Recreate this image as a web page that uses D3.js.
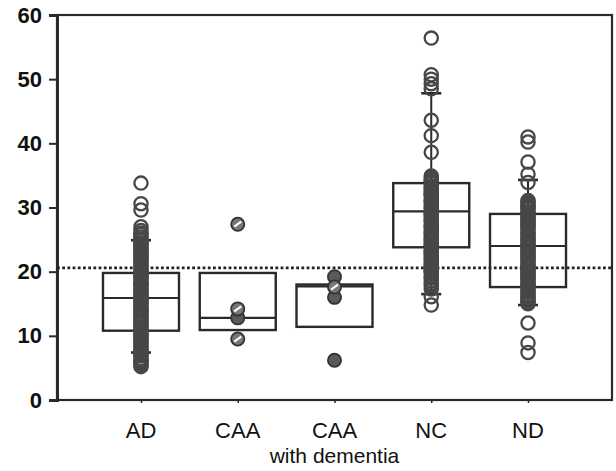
<!DOCTYPE html>
<html>
<head>
<meta charset="utf-8">
<script src="https://cdn.jsdelivr.net/npm/d3@7"></script>
<style>
  body { margin: 0; background: #fff; }
  text { font-family: Arial, "Liberation Sans", sans-serif; fill: #111; }
</style>
</head>
<body>
<svg id="chart" width="616" height="471"></svg>
<script>
// groups on the x axis (second line after "|")
const categories = ["AD", "CAA", "CAA|with dementia", "NC", "ND"];
const yTicks = [0, 10, 20, 30, 40, 50, 60];
const cutoff = 20.6;

// box statistics, one value per group
const q1 = [10.8, 10.9, 11.4, 23.8, 17.6];
const medians = [15.9, 12.8, 17.7, 29.4, 24.0];
const q3 = [19.8, 19.8, 18.0, 33.8, 29.0];
const whiskerLow = [7.4, null, null, 16.5, 14.8];
const whiskerHigh = [24.9, null, null, 47.8, 34.3];

// individual cases (the columns are many overlapping cases)
const adPoints = [33.8, 30.6, 29.6, 27.0, 26.4, 26.0, 25.8, 25.4, 25.1, 24.9, 24.5, 24.2,
  24.0, 23.7, 23.3, 23.0, 22.8, 22.4, 22.1, 21.9, 21.5, 21.2, 21.0, 20.7, 20.3, 20.0, 19.8,
  19.4, 19.1, 18.9, 18.5, 18.2, 18.0, 17.7, 17.3, 17.0, 16.8, 16.4, 16.1, 15.9, 15.5, 15.2,
  15.0, 14.7, 14.3, 14.0, 13.8, 13.4, 13.1, 12.9, 12.5, 12.2, 12.0, 11.7, 11.3, 11.0, 10.8,
  10.4, 10.1, 9.9, 9.5, 9.2, 9.0, 8.7, 8.3, 8.0, 7.8, 7.4, 7.1, 6.9, 6.5, 6.2, 6.0, 5.7,
  5.4, 5.2];
const caaHatched = [27.4, 14.2, 9.5];
const caaFilled = [12.8];
const caaDemHatched = [17.6];
const caaDemFilled = [19.2, 16.0, 6.2];
const ncPoints = [56.4, 50.7, 50.0, 49.3, 48.5, 43.6, 41.2, 38.6, 34.9, 34.6, 34.3, 34.0,
  33.8, 33.4, 33.1, 32.9, 32.5, 32.2, 32.0, 31.7, 31.3, 31.0, 30.8, 30.4, 30.1, 29.9, 29.5,
  29.2, 29.0, 28.7, 28.3, 28.0, 27.8, 27.4, 27.1, 26.9, 26.5, 26.2, 26.0, 25.7, 25.3, 25.0,
  24.8, 24.4, 24.1, 23.9, 23.5, 23.2, 23.0, 22.7, 22.3, 22.0, 21.8, 21.4, 21.1, 20.9, 20.5,
  20.2, 20.0, 19.7, 19.3, 19.0, 18.6, 18.2, 17.8, 17.3, 16.1, 14.8];
const ndPoints = [41.0, 40.2, 37.1, 35.2, 33.9, 31.1, 30.8, 30.5, 30.2, 30.0, 29.7, 29.3,
  29.0, 28.8, 28.4, 28.1, 27.9, 27.5, 27.2, 27.0, 26.7, 26.3, 26.0, 25.8, 25.4, 25.1, 24.9,
  24.5, 24.2, 24.0, 23.7, 23.3, 23.0, 22.8, 22.4, 22.1, 21.9, 21.5, 21.2, 21.0, 20.7, 20.3,
  20.0, 19.8, 19.4, 19.1, 18.9, 18.5, 18.2, 18.0, 17.7, 17.3, 17.0, 16.8, 16.4, 16.1, 15.9,
  15.5, 15.2, 15.0, 12.0, 8.9, 7.4];

const openSeries = [
  { group: "AD", values: adPoints },
  { group: "NC", values: ncPoints },
  { group: "ND", values: ndPoints }
];
const hatchedSeries = [
  { group: "CAA", values: caaHatched },
  { group: "CAA|with dementia", values: caaDemHatched }
];
const filledSeries = [
  { group: "CAA", values: caaFilled },
  { group: "CAA|with dementia", values: caaDemFilled }
];

const m = { left: 57, right: 612, top: 15, bottom: 400 };
const ink = "#2a2a2a";
const boxHalf = 38, capHalf = 10, r = 6.6;

const svg = d3.select("#chart");

const x = d3.scalePoint()
    .domain(categories)
    .range([m.left, m.right])
    .padding(0.868);

const y = d3.scaleLinear()
    .domain([0, 60])
    .range([m.bottom, m.top]);

// frame
svg.append("rect")
    .attr("x", m.left).attr("y", m.top)
    .attr("width", m.right - m.left).attr("height", m.bottom - m.top)
    .attr("fill", "none")
    .attr("stroke", ink)
    .attr("stroke-width", 2.2);

// y axis
const yAxis = svg.append("g")
    .attr("transform", `translate(${m.left},0)`)
    .call(d3.axisLeft(y).tickValues(yTicks).tickSize(8).tickPadding(7));
yAxis.select(".domain").attr("stroke", ink).attr("stroke-width", 3);
yAxis.selectAll(".tick line").attr("stroke", ink).attr("stroke-width", 2);
yAxis.selectAll(".tick text")
    .attr("font-size", 22)
    .attr("font-weight", "bold")
    .attr("fill", "#111")
    .style("font-family", "Arial, 'Liberation Sans', sans-serif");

// x axis
const xAxis = svg.append("g")
    .attr("transform", `translate(0,${m.bottom})`)
    .call(d3.axisBottom(x).tickSize(3).tickFormat(""));
xAxis.select(".domain").remove();
xAxis.selectAll(".tick line").attr("stroke", ink).attr("stroke-width", 1.5);

const labels = svg.append("g").selectAll("text")
    .data(categories)
    .join("text")
    .attr("x", d => x(d))
    .attr("y", 438)
    .attr("text-anchor", "middle")
    .attr("font-size", 22);
labels.each(function(d) {
  const parts = d.split("|");
  const t = d3.select(this);
  t.append("tspan").attr("x", x(d)).text(parts[0]);
  if (parts[1]) {
    t.append("tspan").attr("x", x(d)).attr("dy", 25).attr("font-size", 21).text(parts[1]);
  }
});

// cutoff line
svg.append("line")
    .attr("x1", m.left).attr("x2", m.right)
    .attr("y1", y(cutoff)).attr("y2", y(cutoff))
    .attr("stroke", "#222")
    .attr("stroke-width", 2.8)
    .attr("stroke-dasharray", "2.8,2.4");

// boxes
const boxes = svg.append("g");
categories.forEach((c, i) => {
  const cx = x(c);
  boxes.append("rect")
      .attr("x", cx - boxHalf).attr("y", y(q3[i]))
      .attr("width", boxHalf * 2).attr("height", y(q1[i]) - y(q3[i]))
      .attr("fill", "none")
      .attr("stroke", ink)
      .attr("stroke-width", 2.4);
  boxes.append("line")
      .attr("x1", cx - boxHalf).attr("x2", cx + boxHalf)
      .attr("y1", y(medians[i])).attr("y2", y(medians[i]))
      .attr("stroke", ink)
      .attr("stroke-width", 2.2);
});

// whiskers with caps
const wh = svg.append("g");
categories.forEach((c, i) => {
  const cx = x(c);
  [[whiskerHigh[i], q3[i]], [whiskerLow[i], q1[i]]].forEach(([w, edge]) => {
    if (w == null) return;
    wh.append("line")
        .attr("x1", cx).attr("x2", cx)
        .attr("y1", y(w)).attr("y2", y(edge))
        .attr("stroke", ink).attr("stroke-width", 2);
    wh.append("line")
        .attr("x1", cx - capHalf).attr("x2", cx + capHalf)
        .attr("y1", y(w)).attr("y2", y(w))
        .attr("stroke", ink).attr("stroke-width", 2.6);
  });
});

// points
const pts = svg.append("g");
openSeries.forEach(s => {
  pts.selectAll(null)
      .data(s.values)
      .join("circle")
      .attr("cx", x(s.group))
      .attr("cy", d => y(d))
      .attr("r", r)
      .attr("fill", "none")
      .attr("stroke", "#474747")
      .attr("stroke-width", 2.3);
});
filledSeries.forEach(s => {
  pts.selectAll(null)
      .data(s.values)
      .join("circle")
      .attr("cx", x(s.group))
      .attr("cy", d => y(d))
      .attr("r", r)
      .attr("fill", "#5a5a5a")
      .attr("stroke", "#333")
      .attr("stroke-width", 1.8);
});
hatchedSeries.forEach(s => {
  const g = pts.selectAll(null)
      .data(s.values)
      .join("g")
      .attr("transform", d => `translate(${x(s.group)},${y(d)})`);
  g.append("circle")
      .attr("r", r)
      .attr("fill", "#777")
      .attr("stroke", "#333")
      .attr("stroke-width", 1.8);
  g.append("line")
      .attr("x1", -3.5).attr("y1", 2.5)
      .attr("x2", 3.5).attr("y2", -2.5)
      .attr("stroke", "#fff")
      .attr("stroke-width", 2.2);
});
</script>
</body>
</html>
